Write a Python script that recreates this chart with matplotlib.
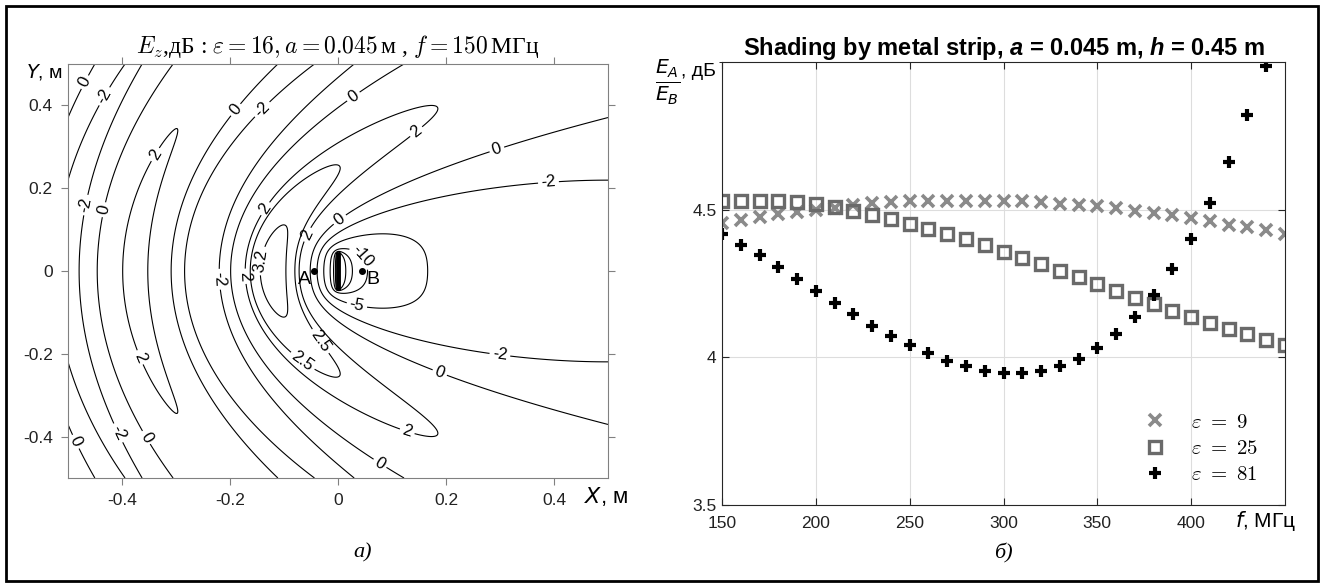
import numpy as np
import matplotlib
matplotlib.use('Agg')
import matplotlib.pyplot as plt
from matplotlib.patches import Rectangle
from matplotlib.font_manager import FontProperties
from matplotlib.ticker import FormatStrFormatter

plt.rcParams['axes.unicode_minus'] = False
plt.rcParams['font.family'] = ['Liberation Sans', 'DejaVu Sans']
plt.rcParams['mathtext.fontset'] = 'custom'
plt.rcParams['mathtext.it'] = 'Liberation Sans:italic:bold'
plt.rcParams['mathtext.rm'] = 'Liberation Sans:bold'

# ---- right panel: shading ratio E_A/E_B, dB ----
freq = [150, 160, 170, 180, 190, 200, 210, 220, 230, 240, 250, 260, 270, 280, 290,
        300, 310, 320, 330, 340, 350, 360, 370, 380, 390, 400, 410, 420, 430, 440, 450]
ratio_eps9 = [4.455, 4.464, 4.475, 4.485, 4.492, 4.498, 4.506, 4.516, 4.523, 4.527,
              4.530, 4.531, 4.531, 4.531, 4.531, 4.530, 4.528, 4.525, 4.520, 4.517,
              4.511, 4.504, 4.497, 4.489, 4.481, 4.472, 4.461, 4.449, 4.440, 4.430, 4.419]
ratio_eps25 = [4.528, 4.530, 4.530, 4.528, 4.525, 4.519, 4.508, 4.494, 4.483, 4.470,
               4.453, 4.436, 4.419, 4.399, 4.379, 4.357, 4.336, 4.315, 4.292, 4.272,
               4.247, 4.225, 4.202, 4.180, 4.157, 4.137, 4.116, 4.096, 4.079, 4.060, 4.042]
ratio_eps81 = [4.419, 4.382, 4.345, 4.306, 4.266, 4.225, 4.185, 4.146, 4.107, 4.073,
               4.042, 4.015, 3.989, 3.969, 3.955, 3.947, 3.947, 3.953, 3.969, 3.994,
               4.030, 4.079, 4.137, 4.210, 4.298, 4.401, 4.522, 4.660, 4.820, 4.985, np.nan]
legend_labels = [r'$\varepsilon\ =\ 9$', r'$\varepsilon\ =\ 25$', r'$\varepsilon\ =\ 81$']

# ---- left panel: model parameters from the title ----
eps_r = 16
a_strip = 0.045       # half width of the strip, m
f_hz = 150e6
contour_levels = [-20, -15, -10, -5, -2, 0, 2, 2.5, 3.2]
# where the reference puts its contour labels (x, y in m)
label_spots = [(-0.47, 0.457), (-0.43, 0.42), (-0.47, 0.16), (-0.43, 0.147),
               (-0.33, 0.275), (-0.19, 0.39), (-0.14, 0.39), (0.04, 0.40),
               (0.155, 0.32), (0.30, 0.27), (0.39, 0.21),
               (-0.14, 0.155), (-0.06, 0.09), (0.004, 0.123), (0.04, 0.03),
               (0.035, -0.082), (-0.13, 0.022), (-0.175, -0.013), (-0.22, -0.02),
               (-0.033, -0.17), (-0.067, -0.22), (0.19, -0.24), (0.30, -0.20),
               (0.13, -0.38), (0.08, -0.46), (-0.49, -0.415), (-0.415, -0.396),
               (-0.356, -0.403), (-0.35, -0.2)]
point_A = (-0.045, 0.0)
point_B = (0.045, 0.0)


def j0_y0(x):
    x = np.asarray(x, dtype=float)
    xs = np.minimum(x, 3.0)
    t = (xs / 3.0) ** 2
    j_s = (1 - 2.2499997*t + 1.2656208*t**2 - 0.3163866*t**3 + 0.0444479*t**4
           - 0.0039444*t**5 + 0.0002100*t**6)
    y_s = (2/np.pi)*np.log(xs/2)*j_s + (0.36746691 + 0.60559366*t - 0.74350384*t**2
           + 0.25300117*t**3 - 0.04261214*t**4 + 0.00427916*t**5 - 0.00024846*t**6)
    xl = np.maximum(x, 3.0)
    u = 3.0 / xl
    f0 = (0.79788456 - 0.00000077*u - 0.00552740*u**2 - 0.00009512*u**3
          + 0.00137237*u**4 - 0.00072805*u**5 + 0.00014476*u**6)
    th = (xl - 0.78539816 - 0.04166397*u - 0.00003954*u**2 + 0.00262573*u**3
          - 0.00054125*u**4 - 0.00029333*u**5 + 0.00013558*u**6)
    j_l = f0*np.cos(th)/np.sqrt(xl)
    y_l = f0*np.sin(th)/np.sqrt(xl)
    return np.where(x <= 3, j_s, j_l), np.where(x <= 3, y_s, y_l)


def hankel2(x):
    j, y = j0_y0(x)
    return j - 1j*y


# plane wave on a thin metal strip (simple moment method)
k = 2*np.pi*f_hz*np.sqrt(eps_r)/3e8
n_seg = 24
dy = 2*a_strip/n_seg
ys = -a_strip + dy*(np.arange(n_seg) + 0.5)
d = np.abs(ys[:, None] - ys[None, :])
d[d == 0] = dy/4
cur = np.linalg.solve(hankel2(k*d), -np.ones(n_seg))

xg = np.linspace(-0.5, 0.5, 501)
yg = np.linspace(-0.5, 0.5, 501)
X, Y = np.meshgrid(xg, yg)
E = np.exp(-1j*k*X)
for yn, cn in zip(ys, cur):
    r = np.maximum(np.hypot(X, Y - yn), dy/4)
    E = E + cn*hankel2(k*r)
Ez_db = 20*np.log10(np.abs(E) + 1e-9)

fig = plt.figure(figsize=(13.24, 5.87), dpi=100)
fig.patches.append(Rectangle((6/1324, 6/587), 1312/1324, 575/587, transform=fig.transFigure,
                             fill=False, edgecolor='black', linewidth=2, zorder=10))

# left panel
ax1 = fig.add_axes([68/1324, 1 - 478/587, 540/1324, 414/587])
cs = ax1.contour(X, Y, Ez_db, levels=contour_levels, colors='black', linewidths=0.8,
                 linestyles='solid')
ax1.clabel(cs, fmt=lambda v: f'{v:g}', fontsize=12, inline=True, inline_spacing=3,
           manual=label_spots)
ax1.plot([0, 0], [-a_strip, a_strip], color='black', linewidth=3.5, solid_capstyle='butt')
ax1.plot([point_A[0], point_B[0]], [point_A[1], point_B[1]], 'o', color='black', markersize=4)
ax1.text(point_A[0] - 0.006, point_A[1] - 0.02, 'A', ha='right', va='center', fontsize=14)
ax1.text(point_B[0] + 0.008, point_B[1] - 0.02, 'B', ha='left', va='center', fontsize=14)
ax1.set_xlim(-0.5, 0.5)
ax1.set_ylim(-0.5, 0.5)
ax1.set_xticks([-0.4, -0.2, 0, 0.2, 0.4])
ax1.set_yticks([-0.4, -0.2, 0, 0.2, 0.4])
ax1.xaxis.set_major_formatter(FormatStrFormatter('%g'))
ax1.yaxis.set_major_formatter(FormatStrFormatter('%g'))
ax1.tick_params(direction='out', length=5, top=True, right=True, labelsize=12.5,
                color='#808080', labelcolor='#222222', pad=6)
for s in ax1.spines.values():
    s.set_color('#808080')
ax1.set_title(r'$E_z$,дБ : $\varepsilon = 16, a = 0.045\,$м , $f = 150\,$МГц',
              fontsize=17, family=['Liberation Serif', 'DejaVu Serif'],
              math_fontfamily='cm', pad=8)
fig.text(63/1324, 1 - 72/587, '$Y$, м', ha='right', va='center', fontsize=14,
         math_fontfamily='dejavusans')
fig.text(584/1324, 1 - 497/587, '$X$, м', ha='left', va='center', fontsize=16,
         math_fontfamily='dejavusans')

# right panel
ax2 = fig.add_axes([722/1324, 1 - 505/587, 563/1324, 443/587])
ax2.plot(freq, ratio_eps9, linestyle='none', marker='x', markersize=8, mew=2.6,
         color='#8a8a8a', label=legend_labels[0])
ax2.plot(freq, ratio_eps25, linestyle='none', marker='s', markersize=8, mew=2.4,
         markerfacecolor='none', markeredgecolor='#6a6a6a', label=legend_labels[1])
ax2.plot(freq, ratio_eps81, linestyle='none', marker='+', markersize=9, mew=3,
         color='black', label=legend_labels[2])
ax2.set_xlim(150, 450)
ax2.set_ylim(3.5, 5.0)
ax2.set_xticks([150, 200, 250, 300, 350, 400])
ax2.set_yticks([3.5, 4, 4.5])
ax2.set_yticks([5.0], minor=True)
ax2.yaxis.set_major_formatter(FormatStrFormatter('%g'))
ax2.grid(True, color='#dddddd', linewidth=0.8)
ax2.set_axisbelow(True)
ax2.tick_params(direction='in', length=5, top=True, right=True, labelsize=12.5,
                color='#262626', labelcolor='#222222', pad=8)
ax2.tick_params(axis='y', pad=4)
for s in ax2.spines.values():
    s.set_color('#262626')
ax2.set_title(r'Shading by metal strip, $a$ = 0.045 m, $h$ = 0.45 m',
              fontsize=17, fontweight='bold', pad=5)
leg = ax2.legend(loc='lower right', frameon=False, markerfirst=True, handletextpad=1.0,
                 labelspacing=0.35, handlelength=1.5,
                 prop=FontProperties(size=15, math_fontfamily='cm'),
                 bbox_to_anchor=(0.99, 0.0), borderaxespad=0.6)
fig.text(680/1324, 1 - 82/587, r'$\frac{E_A}{E_B}$', ha='right', va='center', fontsize=21,
         math_fontfamily='dejavusans')
fig.text(681/1324, 1 - 72/587, ', дБ', ha='left', va='center', fontsize=14)
fig.text(1235/1324, 1 - 521/587, '$f$, МГц', ha='left', va='center', fontsize=15,
         math_fontfamily='dejavusans')

fig.text(363/1324, 1 - 553/587, 'а)', ha='center', va='center', fontsize=16,
         family=['Liberation Serif'], style='italic')
fig.text(1003/1324, 1 - 553/587, 'б)', ha='center', va='center', fontsize=16,
         family=['Liberation Serif'], style='italic')

fig.savefig('out.png', dpi=100)
